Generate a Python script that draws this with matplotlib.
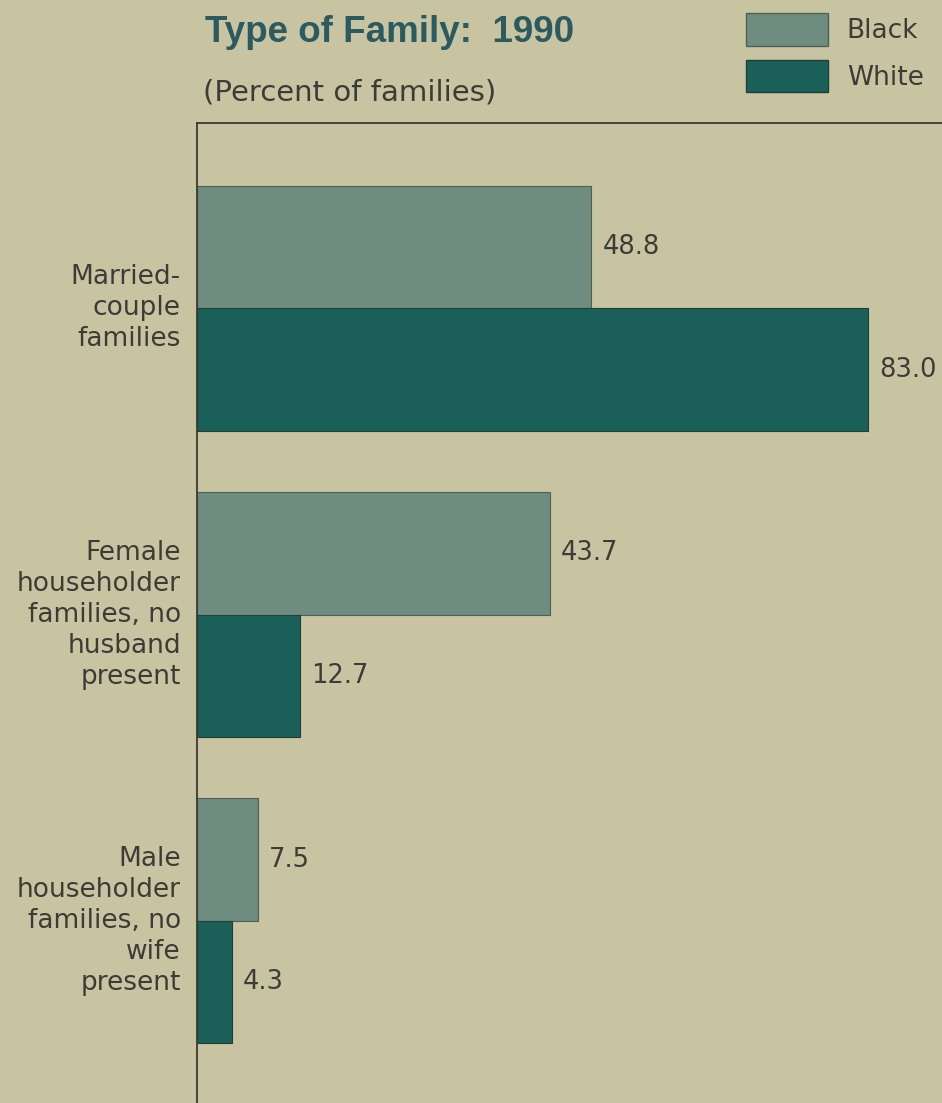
import numpy as np
import matplotlib.pyplot as plt
from matplotlib.patches import Patch

categories = [
    "Married-\ncouple\nfamilies",
    "Female\nhouseholder\nfamilies, no\nhusband\npresent",
    "Male\nhouseholder\nfamilies, no\nwife\npresent",
]
black_values = [48.8, 43.7, 7.5]
white_values = [83.0, 12.7, 4.3]
value_labels_black = ["48.8", "43.7", "7.5"]
value_labels_white = ["83.0", "12.7", "4.3"]

# colors sampled from the printed page
bg = "#c8c4a1"
c_black = "#6f8c80"
c_white = "#1b6058"
c_text = "#3c3c36"
c_title = "#2b5a60"

plt.rcParams["font.family"] = ["DejaVu Sans"]

fig = plt.figure(figsize=(9.42, 11.03), dpi=100, facecolor=bg)
W, H = 942, 1103
ax = fig.add_axes([197 / W, 0, 1 - 197 / W, 1 - 123 / H])
ax.set_facecolor(bg)

y = np.arange(len(categories))
h = 0.4
ax.barh(y - h / 2, black_values, height=h, color=c_black,
        edgecolor="#4f5f55", linewidth=0.8, label="Black")
ax.barh(y + h / 2, white_values, height=h, color=c_white,
        edgecolor="#1f3f3a", linewidth=0.8, label="White")

for i in range(len(categories)):
    ax.annotate(value_labels_black[i], (black_values[i], y[i] - h / 2),
                xytext=(8, 0), textcoords="offset points",
                va="center", ha="left", fontsize=18.5, color=c_text)
    ax.annotate(value_labels_white[i], (white_values[i], y[i] + h / 2),
                xytext=(8, 0), textcoords="offset points",
                va="center", ha="left", fontsize=18.5, color=c_text)
    ax.text(-2.0, y[i], categories[i], ha="right", va="center",
            fontsize=19, color=c_text, linespacing=1.25)

ax.set_xlim(0, 92.2)
ax.set_ylim(2.595, -0.605)
ax.set_xticks([])
ax.set_yticks([])
for s in ["right", "bottom"]:
    ax.spines[s].set_visible(False)
for s in ["left", "top"]:
    ax.spines[s].set_color("#3a3a34")
    ax.spines[s].set_linewidth(1.3)

fig.text(205 / W, 1 - 33 / H, "Type of Family:  1990", fontsize=26.5,
         fontweight="bold", color=c_title, ha="left", va="center",
         family="Liberation Sans")
fig.text(203 / W, 1 - 93 / H, "(Percent of families)", fontsize=21,
         color=c_text, ha="left", va="center")

handles = [Patch(facecolor=c_black, edgecolor="#4f5f55", label="Black"),
           Patch(facecolor=c_white, edgecolor="#1f3f3a", label="White")]
fig.legend(handles=handles, loc="upper left", bbox_to_anchor=(746 / W, 1 - 13 / H),
           frameon=False, fontsize=19, handlelength=3.1, handleheight=1.53,
           handletextpad=0.72, labelspacing=0.53, labelcolor=c_text,
           borderpad=0, borderaxespad=0)

fig.savefig("out.png", dpi=100, facecolor=bg)
